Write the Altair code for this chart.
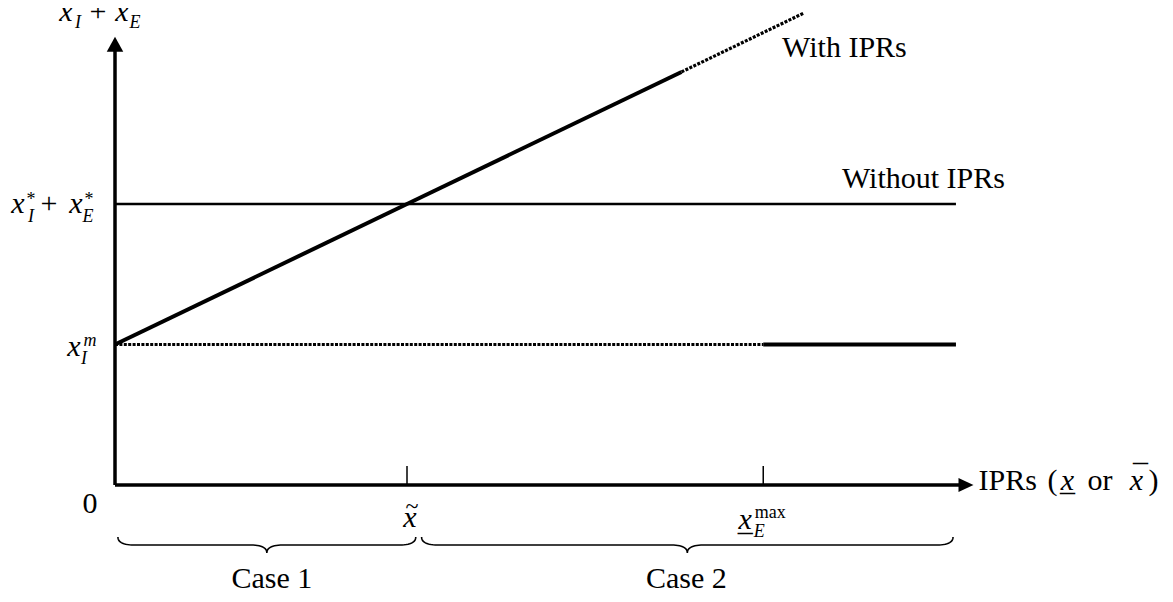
import altair as alt
import pandas as pd
import numpy as np

# ---------------- values (model units) ----------------
X_TILDE = 1.0          # x~
X_EMAX = 2.22          # x_E^max
X_AXIS_END = 2.94      # tip of the IPRs axis
Y_AXIS_END = 3.19      # tip of the vertical axis
X_IM = 1.0             # x_I^m
X_STAR = 2.0           # x_I* + x_E*
FLAT_END = 2.88

with_solid_x = [0.0, 1.0, 1.94]
with_solid_y = [1.0, 2.0, 2.94]
with_dot_x = [1.94, 2.36]
with_dot_y = [2.94, 3.36]
without_x = [0.0, 2.88]
without_y = [2.0, 2.0]
xim_dot_x = [0.0, 2.22]
xim_dot_y = [1.0, 1.0]
xim_solid_x = [2.22, 2.88]
xim_solid_y = [1.0, 1.0]
tick_x = [X_TILDE, X_EMAX]
cases = ["Case 1", "Case 2"]
case_start = [0.01, 1.05]
case_end = [1.03, 2.87]

# ---------------- layout ----------------
W, H = 1155, 586
KX, KY = 292.0, 140.5          # pixels per unit
OX, OY = 107.0, 477.0          # origin inside the plot area
x_dom = [-OX / KX, (W - OX) / KX]
y_dom = [-(H - OY) / KY, OY / KY]
FONT = "Liberation Serif"

X = alt.X("x:Q", scale=alt.Scale(domain=x_dom, nice=False, zero=False), axis=None)
Y = alt.Y("y:Q", scale=alt.Scale(domain=y_dom, nice=False, zero=False), axis=None)

layers = []


def seg(xs, ys, width, dash=None):
    df = pd.DataFrame({"x": xs, "y": ys, "o": list(range(len(xs)))})
    kw = dict(color="black", strokeWidth=width, strokeCap="butt")
    if dash:
        kw["strokeDash"] = dash
    return alt.Chart(df).mark_line(**kw).encode(x=X, y=Y, order="o:Q")


def txt(s, x, y, dx, dy, size=30, italic=False, align="center", baseline="alphabetic"):
    df = pd.DataFrame({"x": [x], "y": [y], "t": [s]})
    return alt.Chart(df).mark_text(
        font=FONT, fontSize=size, fontStyle="italic" if italic else "normal",
        dx=dx, dy=dy, align=align, baseline=baseline, color="black"
    ).encode(x=X, y=Y, text="t:N")


# axes
layers.append(seg([0, 0], [0, Y_AXIS_END - 14 / KY], 3.5))
layers.append(seg([0, X_AXIS_END - 14 / KX], [0, 0], 3.5))
up = pd.DataFrame({"x": [0.0], "y": [Y_AXIS_END]})
right = pd.DataFrame({"x": [X_AXIS_END], "y": [0.0]})
layers.append(alt.Chart(up).mark_point(shape="M0,0L-0.55,1L0.55,1Z", size=900, filled=True,
                                        color="black", opacity=1, strokeWidth=0).encode(x=X, y=Y))
layers.append(alt.Chart(right).mark_point(shape="M0,0L-1,-0.47L-1,0.47Z", size=900, filled=True,
                                           color="black", opacity=1, strokeWidth=0).encode(x=X, y=Y))
# ticks
tdf = pd.DataFrame({"x": tick_x, "y": [0.0] * 2, "y2": [19 / KY] * 2})
layers.append(alt.Chart(tdf).mark_rule(color="black", strokeWidth=1.5).encode(x=X, y=Y, y2="y2:Q"))

# curves
layers.append(seg(without_x, without_y, 2.3))
layers.append(seg(xim_dot_x, xim_dot_y, 3.2, [3, 1.4]))
layers.append(seg(xim_solid_x, xim_solid_y, 4))
layers.append(seg(with_solid_x, with_solid_y, 4))
layers.append(seg(with_dot_x, with_dot_y, 3.2, [3, 1.4]))


# braces
def quad(p0, p1, p2, n=14):
    t = np.linspace(0, 1, n)[:, None]
    return (1 - t) ** 2 * np.array(p0) + 2 * (1 - t) * t * np.array(p1) + t ** 2 * np.array(p2)


def brace(x0, x1):
    top, mid, bot = -52 / KY, -60 / KY, -68 / KY
    r = 16 / KX
    xm = (x0 + x1) / 2
    parts = [
        quad((x0, top), (x0, mid), (x0 + r, mid)),
        quad((xm - r, mid), (xm, mid), (xm, bot)),
        quad((xm, bot), (xm, mid), (xm + r, mid)),
        quad((x1 - r, mid), (x1, mid), (x1, top)),
    ]
    return np.vstack(parts)


for i, (a, b) in enumerate(zip(case_start, case_end)):
    pts = brace(a, b)
    layers.append(seg(pts[:, 0].tolist(), pts[:, 1].tolist(), 1.6))
    layers.append(txt(cases[i], (a + b) / 2, 0, 5 if i == 0 else -1, 103))

# y title  x_I + x_E
layers += [
    txt("x", 0, Y_AXIS_END, -49, -16, italic=True),
    txt("I", 0, Y_AXIS_END, -37, -9, 18, italic=True),
    txt("+", 0, Y_AXIS_END, -17, -16),
    txt("x", 0, Y_AXIS_END, 7, -16, italic=True),
    txt("E", 0, Y_AXIS_END, 20, -9, 18, italic=True),
]
# x_I* + x_E*
layers += [
    txt("x", 0, X_STAR, -97, 9, italic=True),
    txt("*", 0, X_STAR, -84, 1, 18),
    txt("I", 0, X_STAR, -84, 18, 18, italic=True),
    txt("+", 0, X_STAR, -66, 9),
    txt("x", 0, X_STAR, -39, 9, italic=True),
    txt("*", 0, X_STAR, -26, 1, 18),
    txt("E", 0, X_STAR, -27, 18, 18, italic=True),
]
# x_I^m
layers += [
    txt("x", 0, X_IM, -41, 11, italic=True),
    txt("m", 0, X_IM, -25, 1, 18, italic=True),
    txt("I", 0, X_IM, -31, 19, 18, italic=True),
]
# origin
layers.append(txt("0", 0, 0, -25, 28))
# x tilde
layers += [
    txt("x", X_TILDE, 0, 3, 42, italic=True),
    txt("~", X_TILDE, 0, 5, 29, 24),
]
# x_E^max underlined
layers += [
    txt("x", X_EMAX, 0, -18, 44, italic=True),
    txt("_", X_EMAX, 0, -18, 46),
    txt("max", X_EMAX, 0, 7, 33, 18),
    txt("E", X_EMAX, 0, -4, 52, 18, italic=True),
]
# IPRs (x or x)
layers += [
    txt("IPRs", X_AXIS_END, 0, 5, 5, align="left"),
    txt("(", X_AXIS_END, 0, 74, 5, align="left"),
    txt("x", X_AXIS_END, 0, 94, 5, italic=True),
    txt("_", X_AXIS_END, 0, 94, 6),
    txt("or", X_AXIS_END, 0, 114, 5, align="left"),
    txt("x", X_AXIS_END, 0, 163, 5, italic=True),
    txt("_", X_AXIS_END, 0, 167, -24),
    txt(")", X_AXIS_END, 0, 175, 5, align="left"),
]
# curve labels
layers.append(txt("With IPRs", with_dot_x[-1], with_dot_y[-1], -22, 44, align="left"))
layers.append(txt("Without IPRs", without_x[-1], without_y[-1], -114, -16, align="left"))

chart = alt.layer(*layers).properties(
    width=W, height=H, autosize=alt.AutoSizeParams(type="none"), padding=0,
    background="white"
).configure_view(stroke=None)

chart.save("out.html", embed_options={"renderer": "svg", "actions": False})
